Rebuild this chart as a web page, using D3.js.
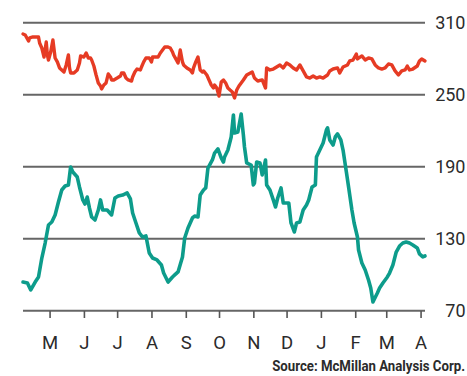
<!DOCTYPE html>
<html>
<head>
<meta charset="utf-8">
<script src="https://cdn.jsdelivr.net/npm/d3@7"></script>
<style>
  html, body { margin: 0; padding: 0; background: #fff; }
  svg { display: block; }
</style>
</head>
<body>
<svg id="chart" width="467" height="376"></svg>
<script>
// Upper (red) series
const redDates = ["2014-04-07","2014-04-09","2014-04-12","2014-04-13","2014-04-16","2014-04-19","2014-04-21","2014-04-22","2014-04-24","2014-04-26","2014-04-28","2014-04-29","2014-04-30","2014-05-02","2014-05-04","2014-05-06","2014-05-08","2014-05-10","2014-05-12","2014-05-14","2014-05-16","2014-05-18","2014-05-19","2014-05-20","2014-05-23","2014-05-26","2014-05-28","2014-05-29","2014-06-01","2014-06-03","2014-06-05","2014-06-07","2014-06-08","2014-06-10","2014-06-12","2014-06-14","2014-06-16","2014-06-17","2014-06-19","2014-06-21","2014-06-23","2014-06-25","2014-06-26","2014-06-28","2014-07-01","2014-07-04","2014-07-05","2014-07-07","2014-07-09","2014-07-11","2014-07-14","2014-07-15","2014-07-17","2014-07-19","2014-07-22","2014-07-23","2014-07-25","2014-07-27","2014-07-30","2014-08-01","2014-08-02","2014-08-05","2014-08-07","2014-08-09","2014-08-11","2014-08-13","2014-08-16","2014-08-18","2014-08-20","2014-08-21","2014-08-23","2014-08-25","2014-08-27","2014-08-29","2014-08-30","2014-09-02","2014-09-05","2014-09-07","2014-09-08","2014-09-10","2014-09-12","2014-09-14","2014-09-16","2014-09-17","2014-09-20","2014-09-22","2014-09-24","2014-09-26","2014-09-27","2014-09-29","2014-10-01","2014-10-03","2014-10-05","2014-10-07","2014-10-09","2014-10-11","2014-10-13","2014-10-15","2014-10-17","2014-10-19","2014-10-21","2014-10-23","2014-10-26","2014-10-31","2014-11-02","2014-11-05","2014-11-09","2014-11-12","2014-11-13","2014-11-16","2014-11-19","2014-11-22","2014-11-25","2014-11-28","2014-12-01","2014-12-04","2014-12-07","2014-12-10","2014-12-13","2014-12-16","2014-12-19","2014-12-22","2014-12-25","2014-12-28","2014-12-31","2015-01-03","2015-01-07","2015-01-09","2015-01-12","2015-01-16","2015-01-18","2015-01-21","2015-01-25","2015-01-27","2015-01-30","2015-02-02","2015-02-03","2015-02-07","2015-02-10","2015-02-13","2015-02-16","2015-02-19","2015-02-22","2015-02-25","2015-02-28","2015-03-03","2015-03-06","2015-03-09","2015-03-12","2015-03-15","2015-03-18","2015-03-20","2015-03-22","2015-03-25","2015-03-29","2015-03-31","2015-04-02","2015-04-05"];
const redValues = [300.6,299.8,294.7,297.3,298.1,298.1,298.1,293.1,288.9,281.4,293.9,283.1,278.9,285.6,295.6,280.6,277.3,272.3,270.6,268.9,274.8,283.1,272.3,268.1,268.1,270.6,276.4,282.3,281.4,284.8,280.6,280.6,278.9,273.9,266.4,259.8,257.3,254.8,258.1,259.8,267.3,264.8,262.3,262.3,263.9,265.6,268.1,268.1,263.9,262.3,261.4,264.8,268.9,271.4,270.6,273.1,277.3,280.6,280.6,277.3,281.4,281.4,281.4,284.8,287.3,289.7,289.7,288.9,285.6,283.1,279.8,276.4,287.3,277.3,274.8,272.3,270.6,268.1,272.3,277.3,281.4,270.6,268.9,269.8,266.4,262.3,258.1,255.6,258.1,255.6,248.9,260.6,262.3,259.8,255.6,253.9,252.3,247.3,253.9,257.3,259.8,262.3,266.4,268.9,263.9,261.4,262.3,255.6,272.3,270.6,271.4,273.1,274.8,272.3,276.4,274.8,272.3,270.6,274.8,269.8,264.8,263.9,265.6,263.9,264.8,263.9,266.4,269.8,271.4,272.3,268.1,273.1,274.8,278.1,278.9,283.9,279.8,282.3,278.9,280.6,279.8,274.8,272.3,271.4,272.3,275.6,274.8,269.8,266.4,269.8,270.6,273.9,270.6,271.4,273.9,278.1,279.8,278.1];

// Lower (teal) series
const tealDates = ["2014-04-07","2014-04-11","2014-04-14","2014-04-18","2014-04-21","2014-04-24","2014-04-27","2014-04-30","2014-05-03","2014-05-06","2014-05-09","2014-05-12","2014-05-15","2014-05-18","2014-05-20","2014-05-22","2014-05-26","2014-05-28","2014-05-31","2014-06-02","2014-06-04","2014-06-06","2014-06-08","2014-06-11","2014-06-14","2014-06-16","2014-06-18","2014-06-22","2014-06-26","2014-06-29","2014-07-02","2014-07-06","2014-07-10","2014-07-13","2014-07-15","2014-07-18","2014-07-21","2014-07-24","2014-07-27","2014-07-30","2014-08-02","2014-08-06","2014-08-10","2014-08-12","2014-08-16","2014-08-20","2014-08-22","2014-08-25","2014-08-29","2014-08-31","2014-09-03","2014-09-07","2014-09-09","2014-09-12","2014-09-14","2014-09-17","2014-09-19","2014-09-21","2014-09-25","2014-09-27","2014-09-30","2014-10-03","2014-10-05","2014-10-06","2014-10-09","2014-10-12","2014-10-14","2014-10-15","2014-10-18","2014-10-21","2014-10-23","2014-10-24","2014-10-26","2014-10-30","2014-11-01","2014-11-02","2014-11-04","2014-11-07","2014-11-09","2014-11-12","2014-11-13","2014-11-16","2014-11-19","2014-11-21","2014-11-23","2014-11-26","2014-11-28","2014-12-01","2014-12-03","2014-12-05","2014-12-08","2014-12-10","2014-12-13","2014-12-16","2014-12-19","2014-12-21","2014-12-24","2014-12-27","2014-12-28","2014-12-31","2015-01-03","2015-01-06","2015-01-07","2015-01-09","2015-01-12","2015-01-14","2015-01-16","2015-01-19","2015-01-21","2015-01-24","2015-01-26","2015-01-29","2015-01-31","2015-02-03","2015-02-04","2015-02-07","2015-02-10","2015-02-13","2015-02-15","2015-02-17","2015-02-21","2015-02-23","2015-02-26","2015-03-02","2015-03-04","2015-03-07","2015-03-10","2015-03-13","2015-03-16","2015-03-19","2015-03-22","2015-03-25","2015-03-29","2015-03-31","2015-04-03","2015-04-05"];
const tealValues = [93.9,93.1,87.3,93.9,98.1,113.9,126.4,141.4,143.9,149.8,160.6,170.6,173.9,174.8,189.7,185.6,181.4,173.1,162.3,158.9,164.7,155.6,148.1,145.6,153.9,162.3,153.9,153.9,149.8,163.9,165.6,166.4,168.1,163.1,151.4,143.1,134.8,131.4,132.3,118.1,113.9,112.3,108.1,101.4,93.9,98.1,99.8,102.3,114.8,130.6,138.9,147.3,148.9,148.1,166.4,170.6,172.3,188.9,195.6,201.4,204.8,197.3,193.9,198.1,203.9,214.8,233.1,218.1,218.9,233.9,216.4,206.4,193.1,191.4,174.8,176.4,193.9,193.1,183.1,195.6,174.8,170.6,162.3,156.4,163.9,172.3,159.8,159.8,159.8,143.1,135.6,143.1,143.9,153.9,158.1,162.3,173.1,174.8,198.1,203.9,209.8,220.6,222.3,212.3,208.1,214.8,217.3,212.3,203.9,185.6,173.1,153.9,143.1,131.4,120.6,109.8,103.9,95.6,88.9,77.3,84.8,88.9,93.1,98.1,101.4,108.1,118.9,123.9,126.4,127.3,126.4,124.8,122.3,117.3,114.8,115.6];

// Axis ticks
const yTicks = [70, 130, 190, 250, 310];
const monthTicks = ["2014-05-01","2014-06-01","2014-07-01","2014-08-01","2014-09-01","2014-10-01","2014-11-01","2014-12-01","2015-01-01","2015-02-01","2015-03-01","2015-04-01"];
const monthLabels = ["M","J","J","A","S","O","N","D","J","F","M","A"];
const sourceText = "Source: McMillan Analysis Corp.";

const parse = d3.utcParse("%Y-%m-%d");
const svg = d3.select("#chart");

const x = d3.scaleUtc()
  .domain([parse("2014-04-07"), parse("2015-04-05")])
  .range([23, 425]);
const y = d3.scaleLinear()
  .domain([70, 310])
  .range([310.7, 22.7]);

// Horizontal gridlines
svg.append("g")
  .selectAll("line")
  .data(yTicks)
  .join("line")
  .attr("x1", 23).attr("x2", 425)
  .attr("y1", d => y(d)).attr("y2", d => y(d))
  .attr("stroke", "#666")
  .attr("stroke-width", 2);

// Right-hand value labels
svg.append("g")
  .selectAll("text")
  .data(yTicks)
  .join("text")
  .attr("x", 465.5)
  .attr("y", d => y(d) + 6.4)
  .attr("text-anchor", "end")
  .attr("font-family", "Roboto, 'Liberation Sans', sans-serif")
  .attr("font-size", 18)
  .attr("fill", "#2b2b2b")
  .text(d => d);

// Month axis
const xAxis = d3.axisBottom(x)
  .tickValues(monthTicks.map(parse))
  .tickSize(7)
  .tickFormat((d, i) => monthLabels[i]);

const ax = svg.append("g")
  .attr("transform", "translate(0,311)")
  .call(xAxis);
ax.select(".domain").remove();
ax.selectAll(".tick line").attr("stroke", "#555").attr("stroke-width", 1.6);
ax.selectAll(".tick text")
  .attr("y", 38.3)
  .attr("dy", null)
  .attr("font-family", "Roboto, 'Liberation Sans', sans-serif")
  .attr("font-size", 18.5)
  .attr("fill", "#2b2b2b");

// Series lines
const line = d3.line()
  .x(d => x(d.date))
  .y(d => y(d.value));

const redData = redDates.map((d, i) => ({ date: parse(d), value: redValues[i] }));
const tealData = tealDates.map((d, i) => ({ date: parse(d), value: tealValues[i] }));

svg.append("path")
  .datum(redData)
  .attr("d", line)
  .attr("fill", "none")
  .attr("stroke", "#e63b24")
  .attr("stroke-width", 3.4)
  .attr("stroke-linejoin", "round")
  .attr("stroke-linecap", "round");

svg.append("path")
  .datum(tealData)
  .attr("d", line)
  .attr("fill", "none")
  .attr("stroke", "#0d9c8b")
  .attr("stroke-width", 3.6)
  .attr("stroke-linejoin", "round")
  .attr("stroke-linecap", "round");

// Source credit, set in a horizontally condensed bold face
const source = svg.append("g")
  .attr("transform", "translate(465,371)");
const sourceLabel = source.append("text")
  .attr("text-anchor", "end")
  .attr("font-family", "Roboto, 'Liberation Sans', sans-serif")
  .attr("font-weight", 700)
  .attr("font-size", 15)
  .attr("fill", "#2b2b2b")
  .text(sourceText);
const naturalWidth = sourceLabel.node().getComputedTextLength();
sourceLabel.attr("transform", `scale(${193 / naturalWidth},1)`);
</script>
</body>
</html>
